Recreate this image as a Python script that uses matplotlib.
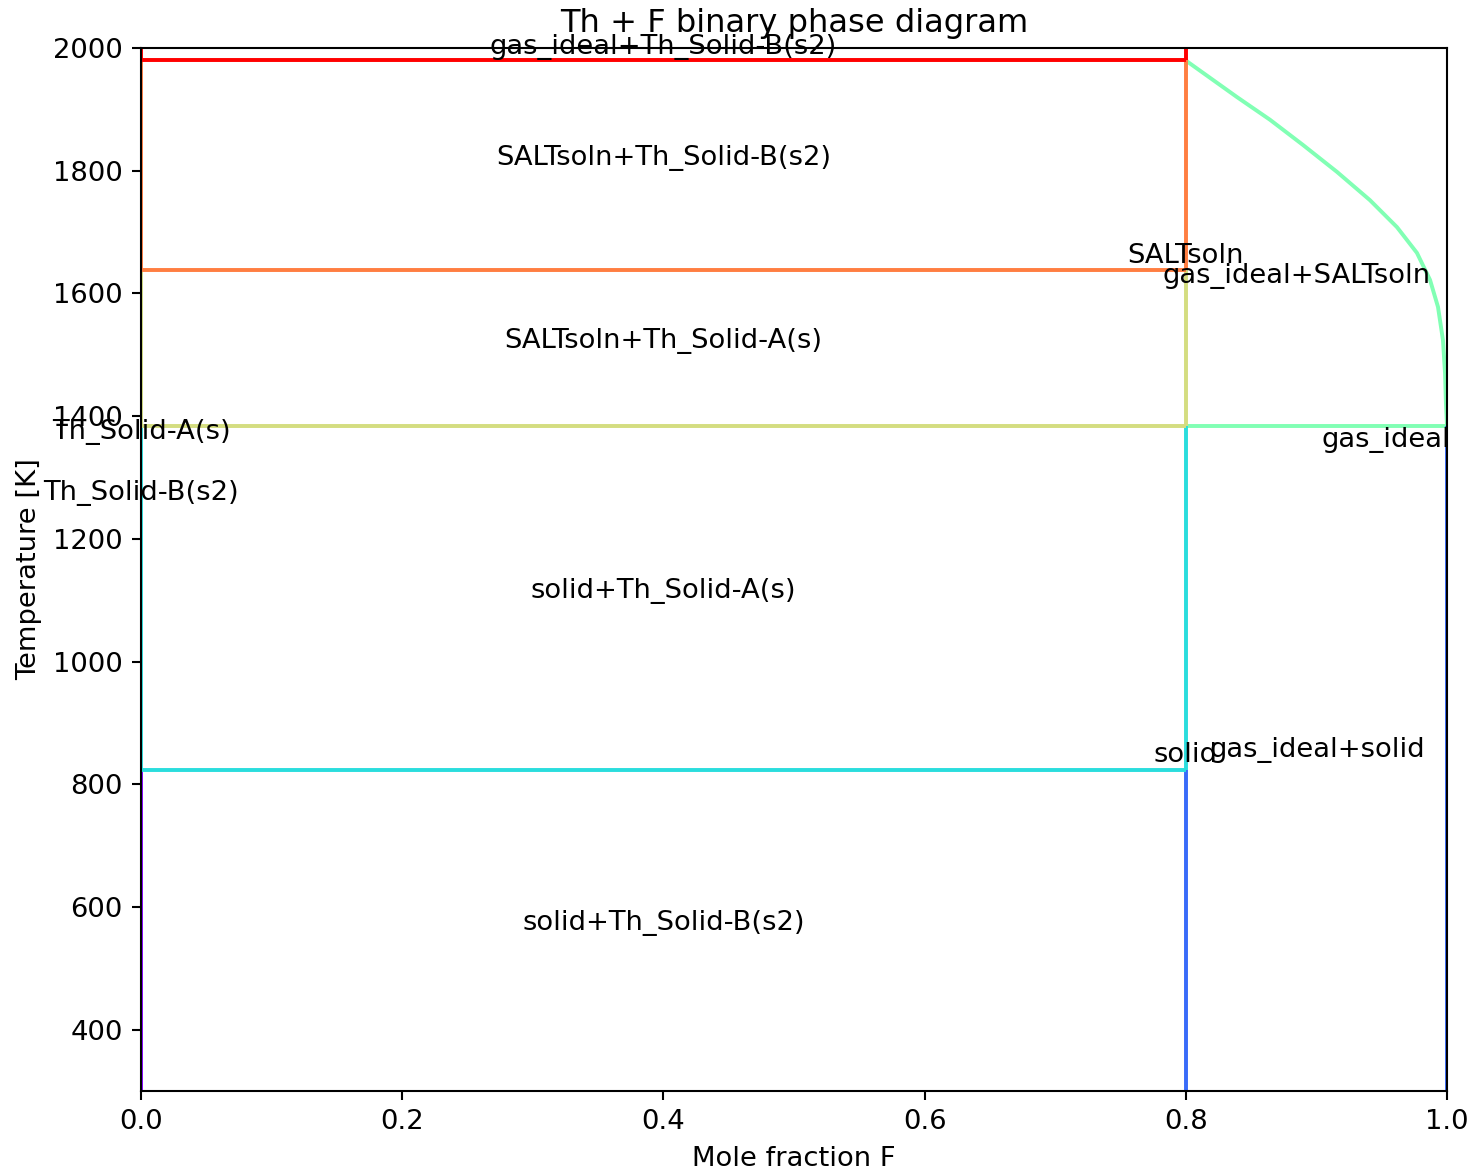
import numpy as np
import matplotlib
matplotlib.use("Agg")
import matplotlib.pyplot as plt

# ---- data ----
T_top = 1980.0     # gas_ideal + Th_Solid-B(s2) lower boundary
T_upper = 1638.0   # SALTsoln+Th_Solid-B / SALTsoln+Th_Solid-A
T_mid = 1384.0     # Th_Solid-A / solid
T_low = 824.0      # Th_Solid-A(s) / Th_Solid-B(s2) in solid
x_salt = 0.8
T_min, T_max = 300.0, 2000.0

# gas_ideal + SALTsoln boundary curve
curve_x = [0.800, 0.8017, 0.8392, 0.8645, 0.8897, 0.9158, 0.9410, 0.9617, 0.9770,
           0.9870, 0.9931, 0.9969, 0.9985, 0.9992, 1.0]
curve_T = [1980, 1977, 1920, 1883, 1842, 1798, 1752, 1708, 1666,
           1622, 1578, 1524, 1470, 1420, 1384]

# region labels: text, x, T (baseline)
label_text = ["gas_ideal+Th_Solid-B(s2)", "SALTsoln+Th_Solid-B(s2)", "SALTsoln", "gas_ideal+SALTsoln",
              "SALTsoln+Th_Solid-A(s)", "Th_Solid-A(s)", "gas_ideal", "Th_Solid-B(s2)",
              "solid+Th_Solid-A(s)", "solid", "gas_ideal+solid", "solid+Th_Solid-B(s2)"]
label_x = [0.4, 0.4, 0.8, 0.885, 0.4, 0.0, 0.953, 0.0, 0.4, 0.8, 0.901, 0.4]
label_T = [1990, 1809, 1650, 1617, 1511, 1363, 1350, 1264, 1104, 836, 845, 562]

plt.rcParams["font.size"] = 10.5
dpi = 188
fig = plt.figure(figsize=(1479 / dpi, 1172 / dpi), dpi=dpi)
ax = fig.add_axes([141 / 1479, 81 / 1172, 1306 / 1479, 1043 / 1172])

cmap = plt.get_cmap("rainbow")
c = lambda v: cmap(v)

def seg(xs, ts, col):
    ax.plot(xs, ts, color=col, lw=1.5, solid_capstyle="butt")

# green: gas_ideal + SALTsoln
seg(curve_x, curve_T, c(3 / 6))
seg([x_salt, 1.0], [T_mid, T_mid], c(3 / 6))
# purple: solid + Th_Solid-B(s2)
seg([0, 0], [T_min, T_low], c(0.0))
# blue: gas_ideal + solid
seg([x_salt, x_salt], [T_min, T_low], c(0.14))
seg([1.0, 1.0], [T_min, T_mid], c(0.14))
# cyan: solid + Th_Solid-A(s)
seg([0, x_salt], [T_low, T_low], c(2 / 6))
seg([x_salt, x_salt], [T_low, T_mid], c(2 / 6))
seg([0, 0], [T_low, T_mid], c(2 / 6))
# yellow-green: SALTsoln + Th_Solid-A(s)
seg([0, x_salt], [T_mid, T_mid], c(4 / 6))
seg([x_salt, x_salt], [T_mid, T_upper], c(4 / 6))
seg([0, 0], [T_mid, T_upper], c(4 / 6))
# orange: SALTsoln + Th_Solid-B(s2)
seg([0, x_salt], [T_upper, T_upper], c(5 / 6))
seg([x_salt, x_salt], [T_upper, T_top], c(5 / 6))
seg([0, 0], [T_upper, T_top], c(5 / 6))
# red: gas_ideal + Th_Solid-B(s2)
seg([0, x_salt], [T_top, T_top], c(1.0))
seg([x_salt, x_salt], [T_top, T_max], c(1.0))
seg([0, 0], [T_top, T_max], c(1.0))

for t, x, T in zip(label_text, label_x, label_T):
    ax.text(x, T, t, ha="center", va="baseline", fontsize=10.5, color="black")

ax.set_xlim(0, 1)
ax.set_ylim(T_min, T_max)
ax.set_xlabel("Mole fraction F")
ax.set_ylabel("Temperature [K]")
ax.set_title("Th + F binary phase diagram", fontsize=12.3)
fig.savefig("out.png", dpi=dpi)
